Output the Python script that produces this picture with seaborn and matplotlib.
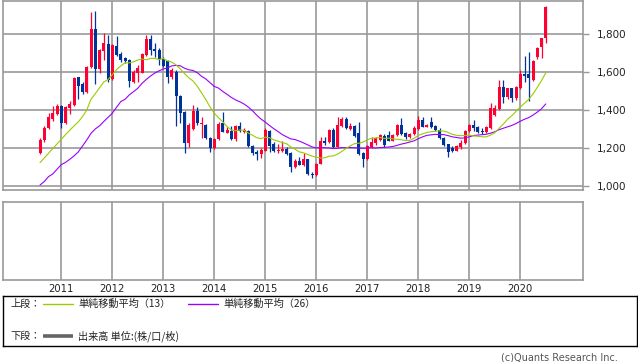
import numpy as np
import pandas as pd
import matplotlib
matplotlib.use("Agg")
import matplotlib.pyplot as plt
import seaborn as sns

# ---------------- data (monthly candles, Aug 2010 - Jul 2020) ----------------
start_month = "2010-08"
opens = [
    1177, 1244, 1305, 1354, 1381, 1423, 1332, 1411, 1428, 1574,
    1539, 1496, 1630, 1828, 1616, 1714, 1749, 1565, 1740, 1697,
    1674, 1665, 1551, 1598, 1598, 1691, 1775, 1723, 1718, 1670,
    1660, 1577, 1604, 1475, 1390, 1230, 1302, 1397, 1330, 1323,
    1253, 1200, 1247, 1332, 1282, 1293, 1247, 1318, 1288, 1293,
    1212, 1181, 1170, 1188, 1290, 1221, 1188, 1188, 1198, 1174,
    1100, 1135, 1114, 1142, 1067, 1058, 1119, 1237, 1235, 1297,
    1209, 1318, 1353, 1302, 1318, 1279, 1177, 1142, 1207, 1228,
    1244, 1267, 1270, 1240, 1270, 1323, 1281, 1260, 1274, 1302,
    1349, 1314, 1337, 1318, 1297, 1256, 1221, 1203, 1188, 1209,
    1230, 1290, 1323, 1314, 1293, 1284, 1305, 1375, 1405, 1521,
    1472, 1516, 1463, 1516, 1591, 1591, 1560, 1679, 1735, 1782,
]
highs = [
    1253, 1318, 1388, 1423, 1433, 1426, 1423, 1449, 1574, 1577,
    1551, 1635, 1916, 1925, 1722, 1805, 1796, 1749, 1791, 1709,
    1682, 1668, 1612, 1639, 1700, 1796, 1796, 1753, 1726, 1680,
    1665, 1621, 1612, 1480, 1395, 1332, 1428, 1419, 1367, 1330,
    1258, 1253, 1340, 1390, 1314, 1318, 1323, 1340, 1305, 1297,
    1216, 1190, 1200, 1305, 1297, 1233, 1223, 1237, 1207, 1181,
    1144, 1153, 1174, 1146, 1074, 1123, 1262, 1262, 1300, 1305,
    1363, 1367, 1367, 1332, 1323, 1340, 1181, 1216, 1262, 1262,
    1276, 1275, 1290, 1275, 1328, 1360, 1285, 1278, 1318, 1370,
    1367, 1330, 1367, 1325, 1305, 1260, 1225, 1210, 1216, 1246,
    1298, 1328, 1349, 1320, 1305, 1316, 1440, 1430, 1560, 1560,
    1520, 1520, 1530, 1612, 1688, 1705, 1665, 1735, 1782, 1950,
]
lows = [
    1170, 1235, 1300, 1346, 1376, 1305, 1328, 1381, 1423, 1460,
    1486, 1493, 1625, 1537, 1595, 1665, 1551, 1560, 1688, 1656,
    1647, 1525, 1542, 1551, 1595, 1688, 1691, 1682, 1639, 1630,
    1546, 1563, 1319, 1335, 1177, 1205, 1297, 1323, 1253, 1248,
    1183, 1196, 1242, 1284, 1279, 1244, 1240, 1288, 1279, 1207,
    1167, 1137, 1151, 1184, 1181, 1181, 1177, 1181, 1167, 1074,
    1095, 1112, 1109, 1058, 1044, 1053, 1116, 1218, 1228, 1200,
    1205, 1314, 1300, 1297, 1260, 1165, 1100, 1140, 1204, 1220,
    1240, 1209, 1236, 1236, 1265, 1272, 1251, 1255, 1270, 1298,
    1310, 1310, 1305, 1290, 1248, 1212, 1156, 1183, 1184, 1195,
    1225, 1285, 1293, 1280, 1274, 1280, 1300, 1370, 1400, 1440,
    1460, 1442, 1455, 1510, 1547, 1449, 1555, 1668, 1675, 1756,
]
closes = [
    1244, 1309, 1363, 1388, 1423, 1332, 1419, 1433, 1568, 1530,
    1496, 1630, 1828, 1616, 1718, 1753, 1560, 1744, 1691, 1665,
    1660, 1554, 1604, 1621, 1695, 1775, 1718, 1712, 1670, 1635,
    1577, 1612, 1477, 1384, 1230, 1323, 1397, 1332, 1335, 1253,
    1200, 1247, 1328, 1288, 1296, 1247, 1318, 1293, 1296, 1212,
    1177, 1170, 1191, 1296, 1212, 1186, 1193, 1198, 1172, 1100,
    1135, 1114, 1146, 1063, 1058, 1119, 1237, 1228, 1297, 1209,
    1323, 1353, 1305, 1318, 1263, 1170, 1142, 1212, 1232, 1253,
    1270, 1218, 1240, 1270, 1323, 1276, 1260, 1274, 1309, 1349,
    1314, 1323, 1311, 1297, 1253, 1218, 1183, 1188, 1212, 1230,
    1293, 1323, 1305, 1288, 1284, 1311, 1414, 1414, 1521, 1472,
    1516, 1463, 1525, 1591, 1582, 1572, 1660, 1726, 1779, 1946,
]
# moving-average values for the months whose window
# reaches before the first displayed candle
ma13_head = [1125, 1149, 1174, 1198, 1223, 1247, 1272, 1295, 1318, 1339, 1367, 1402]
ma26_head = [1007, 1025, 1051, 1065, 1090, 1114, 1126, 1142, 1160, 1181, 1212, 1244,
             1279, 1302, 1318, 1341, 1363, 1384, 1416, 1446, 1458, 1481, 1498, 1516, 1542]
year_ticks = [2011, 2012, 2013, 2014, 2015, 2016, 2017, 2018, 2019, 2020]
price_ticks = [1000, 1200, 1400, 1600, 1800]
legend_upper = ["上段：", "単純移動平均（13）", "単純移動平均（26）"]
legend_lower = ["下段：", "出来高 単位:(株/口/枚)"]
copyright_text = "(c)Quants Research Inc."

# ---------------- styling ----------------
RED = "#ff0033"
BLUE = "#003399"
MA13_C = "#99cc00"
MA26_C = "#9900ff"
GRID = "#999999"

sns.set_style("white")
plt.rcParams["font.family"] = ["DejaVu Sans", "Noto Sans CJK JP"]

W, H = 638, 362
fig = plt.figure(figsize=(W / 100, H / 100), dpi=100)


def fx(px):
    return px / W


def fy(py):
    return 1 - py / H


months = pd.period_range(start_month, periods=len(closes), freq="M")
t = np.asarray(months.year + (months.month - 1) / 12.0, dtype=float)

df = pd.DataFrame({"t": t, "open": opens, "high": highs, "low": lows, "close": closes})
ma13 = df["close"].rolling(13).mean().to_numpy()
ma13[:len(ma13_head)] = ma13_head
ma26 = df["close"].rolling(26).mean().to_numpy()
ma26[:len(ma26_head)] = ma26_head
df["ma13"] = ma13
df["ma26"] = ma26

X0, X1 = 2009.863, 2021.22
L_px, R_px = 3.3, 582.5

# ---------------- main price panel ----------------
ax = fig.add_axes([fx(L_px), fy(190), fx(R_px - L_px), (190 - 0.5) / H])
ax.set_xlim(X0, X1)
ax.set_ylim(980.5, 1978)
for y in price_ticks:
    ax.axhline(y, color=GRID, lw=1.2, zorder=1)
for x in year_ticks:
    ax.axvline(x, color=GRID, lw=1.2, zorder=1)

up = df["close"] >= df["open"]
colors = np.where(up, RED, BLUE)
body_w = 3.0 / 51.0
ax.vlines(df["t"], df["low"], df["high"], colors=colors, lw=0.9, zorder=3)
body_lo = np.minimum(df["open"], df["close"])
body_h = np.maximum(np.abs(df["close"] - df["open"]), 3)
ax.bar(df["t"], body_h, bottom=body_lo, width=body_w, color=colors, lw=0, zorder=4)

sns.lineplot(data=df, x="t", y="ma26", color=MA26_C, lw=0.8, ax=ax, zorder=5)
sns.lineplot(data=df, x="t", y="ma13", color=MA13_C, lw=0.8, ax=ax, zorder=6)

ax.set_xlabel("")
ax.set_ylabel("")
ax.set_xticks([])
ax.yaxis.tick_right()
ax.set_yticks(price_ticks)
ax.set_yticklabels([f"{v:,}" for v in price_ticks])
ax.tick_params(axis="y", length=4, width=1.0, color=GRID, pad=6,
               labelsize=7.5, labelcolor="#222222", left=False, right=True)
for s in ax.spines.values():
    s.set_color(GRID)
    s.set_linewidth(1.2)

# ---------------- volume panel (empty) ----------------
axv = fig.add_axes([fx(L_px), fy(280), fx(R_px - L_px), (280 - 201.5) / H])
axv.set_xlim(X0, X1)
axv.set_ylim(0, 1)
for x in year_ticks:
    axv.axvline(x, color=GRID, lw=1.2)
axv.set_yticks([])
axv.set_xticks(year_ticks)
axv.set_xticklabels([str(y) for y in year_ticks])
axv.tick_params(axis="x", length=0, pad=3, labelsize=7.2, labelcolor="#222222")
for s in axv.spines.values():
    s.set_color(GRID)
    s.set_linewidth(1.2)

# ---------------- legend box ----------------
axl = fig.add_axes([fx(3.3), fy(345.7), fx(636.6 - 3.3), (345.7 - 295.5) / H])
axl.set_xlim(3.3, 636.6)
axl.set_ylim(345.7, 295.5)
axl.set_xticks([])
axl.set_yticks([])
for s in axl.spines.values():
    s.set_color("black")
    s.set_linewidth(1.0)
jp = ["Noto Sans CJK JP", "DejaVu Sans"]
y1, y2 = 303.5, 336.0
fs = 7.3
axl.text(10, y1, legend_upper[0], family=jp, fontsize=fs, va="center", ha="left", color="#222222")
axl.plot([43, 73], [y1, y1], color=MA13_C, lw=1.0)
axl.text(78, y1, legend_upper[1], family=jp, fontsize=fs, va="center", ha="left", color="#222222")
axl.plot([187.5, 218], [y1, y1], color=MA26_C, lw=1.0)
axl.text(223, y1, legend_upper[2], family=jp, fontsize=fs, va="center", ha="left", color="#222222")
axl.text(10, y2, legend_lower[0], family=jp, fontsize=fs, va="center", ha="left", color="#222222")
axl.plot([43, 73], [y2, y2], color="#666666", lw=2.6, solid_capstyle="butt")
axl.text(78, y2, legend_lower[1], family=jp, fontsize=fs, va="center", ha="left", color="#222222")

fig.text(fx(617.6), fy(357.5), copyright_text, fontsize=7, ha="right", va="center", color="#555555")

fig.savefig("out.png", dpi=100)
